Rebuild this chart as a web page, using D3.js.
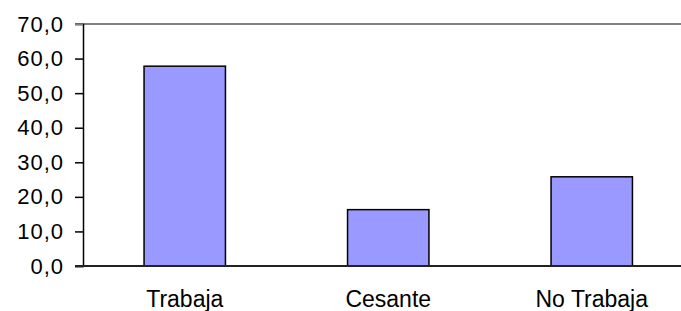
<!DOCTYPE html>
<html>
<head>
<meta charset="utf-8">
<script src="https://cdn.jsdelivr.net/npm/d3@7"></script>
<style>
  body { margin: 0; background: #fff; }
  svg text { font-family: "Liberation Sans", Arial, sans-serif; fill: #000; }
  .ylab text { font-size: 22px; letter-spacing: 1px; }
  .xlab text { font-size: 23px; }
</style>
</head>
<body>
<svg id="vis" width="681" height="311"></svg>
<script>
// data
var categories = ["Trabaja", "Cesante", "No Trabaja"];
var values = [57.8, 16.3, 25.8];
var yTicks = [0, 10, 20, 30, 40, 50, 60, 70];

const MARGINS = { top: 24, left: 83, bottom: 266 };
const plotRight = 693.5;   // plot area runs past the window edge

var svg = d3.select("#vis");

var x = d3.scaleBand()
    .domain(categories)
    .range([MARGINS.left, plotRight])
    .paddingInner(0.6)
    .paddingOuter(0.3);

var y = d3.scaleLinear()
    .domain([0, 70])
    .range([MARGINS.bottom, MARGINS.top]);

// top border of plot area (gray)
svg.append("line")
    .attr("x1", MARGINS.left - 8).attr("x2", 681)
    .attr("y1", y(70)).attr("y2", y(70))
    .attr("stroke", "#808080").attr("stroke-width", 2);

// y axis
var yAxis = d3.axisLeft(y)
    .tickValues(yTicks)
    .tickSize(8)
    .tickPadding(11)
    .tickFormat(function(d){ return d3.format(".1f")(d).replace(".", ","); });

var gy = svg.append("g")
    .attr("class", "ylab")
    .attr("transform", `translate(${MARGINS.left},0)`)
    .call(yAxis);
gy.attr("font-size", null).attr("font-family", null);
gy.select(".domain").attr("stroke", "#000").attr("stroke-width", 1.5);
gy.selectAll(".tick line").attr("stroke", "#000").attr("stroke-width", 1.5);
gy.selectAll(".tick").filter(function(d){ return d === 70; }).select("line").attr("stroke", "#808080");

// bars
svg.selectAll("rect.bar")
    .data(values)
    .enter()
    .append("rect")
    .attr("class", "bar")
    .attr("x", function(d, i){ return x(categories[i]); })
    .attr("width", x.bandwidth())
    .attr("y", function(d){ return y(d); })
    .attr("height", function(d){ return y(0) - y(d); })
    .attr("fill", "#9999ff")
    .attr("stroke", "#000")
    .attr("stroke-width", 1.5);

// x axis baseline + category labels
var xAxis = d3.axisBottom(x).tickSize(0).tickPadding(25);
var gx = svg.append("g")
    .attr("class", "xlab")
    .attr("transform", `translate(0,${MARGINS.bottom})`)
    .call(xAxis);
gx.attr("font-size", null).attr("font-family", null);
gx.select(".domain").attr("stroke", "#222").attr("stroke-width", 2)
    .attr("d", `M${MARGINS.left - 8},0H681`);
</script>
</body>
</html>
